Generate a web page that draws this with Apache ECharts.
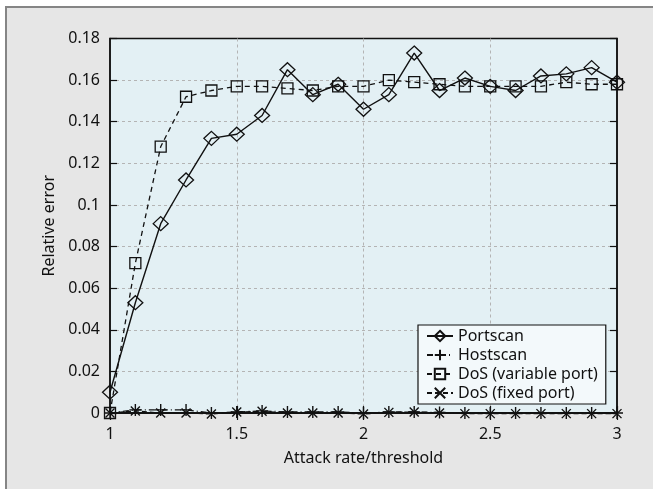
<!DOCTYPE html>
<html>
<head>
<meta charset="utf-8">
<script src="https://cdn.jsdelivr.net/npm/echarts@6/dist/echarts.min.js"></script>
<style>
html,body{margin:0;padding:0;background:#ffffff;}
#chart{width:653px;height:489px;}
</style>
</head>
<body>
<div id="chart"></div>
<script>
var xValues = [1.0,1.1,1.2,1.3,1.4,1.5,1.6,1.7,1.8,1.9,2.0,2.1,2.2,2.3,2.4,2.5,2.6,2.7,2.8,2.9,3.0];
var portscan = [0.010,0.053,0.091,0.112,0.132,0.134,0.143,0.165,0.153,0.158,0.146,0.153,0.173,0.155,0.161,0.157,0.155,0.162,0.163,0.166,0.159];
var hostscan = [0,0.0015,0.0015,0.0015,0,0.0005,0.001,0.0005,0.0005,0.0005,0,0.0005,0.0005,0.0003,0,0,0,0,0,0,0];
var dosVariable = [0,0.072,0.128,0.152,0.155,0.157,0.157,0.156,0.155,0.157,0.157,0.160,0.159,0.158,0.157,0.157,0.157,0.157,0.159,0.158,0.158];
var dosFixed = [0,0.001,0,0,-0.0005,0.0005,0.0008,0,0,0,-0.0005,0.0003,0.0005,0,-0.0003,-0.0003,-0.0003,-0.0003,-0.0003,-0.0003,-0.0003];
var seriesNames = ['Portscan','Hostscan','DoS (variable port)','DoS (fixed port)'];
var xTicks = [1,1.5,2,2.5,3];
var yTicks = [0,0.02,0.04,0.06,0.08,0.1,0.12,0.14,0.16,0.18];

function pairs(vals){ return xValues.map(function(x,i){ return [x, vals[i]]; }); }

var FONT = 'Noto Sans';
var chart = echarts.init(document.getElementById('chart'), null, {renderer:'canvas'});
var gridLine = {show:true, showMinLine:false, showMaxLine:false, lineStyle:{color:'#b4b4b4', type:[3,3], width:1}};
var plusPath = 'path://M0,5 L10,5 M5,0 L5,10';
var crossPath = 'path://M0,0 L10,10 M10,0 L0,10';

chart.setOption({
  animation:false,
  backgroundColor:'#ffffff',
  graphic:[{
    type:'rect', z:-10, silent:true,
    shape:{x:6, y:7, width:720, height:560},
    style:{fill:'#e6e6e6', stroke:'#858585', lineWidth:2}
  }],
  grid:{left:110, right:36, top:38.5, bottom:76, show:true, backgroundColor:'#e3f0f4', borderColor:'#111', borderWidth:1.5},
  legend:{
    orient:'vertical', left:418, top:325, width:190,
    padding:[3,8,3,8], itemGap:3, itemWidth:26, itemHeight:13,
    backgroundColor:'#f3f9fb', borderColor:'#111', borderWidth:1.2,
    textStyle:{fontFamily:FONT, fontSize:16, color:'#111'},
    data:seriesNames
  },
  xAxis:[{
    type:'value', min:1, max:3, interval:0.5,
    name:'Attack rate/threshold', nameLocation:'middle', nameGap:37,
    nameTextStyle:{fontFamily:FONT, fontSize:16, color:'#111'},
    axisLine:{show:true, onZero:false, lineStyle:{color:'#111', width:1.5}},
    axisTick:{show:true, inside:true, length:7, lineStyle:{color:'#111', width:1.2}},
    axisLabel:{fontFamily:FONT, fontSize:16, color:'#111', margin:13, formatter:function(v){ return xTicks.indexOf(v)>=0 ? String(v) : ''; }},
    splitLine:gridLine
  },{
    type:'value', position:'top', min:1, max:3, interval:0.5,
    axisLine:{show:true, lineStyle:{color:'#111', width:1.5}},
    axisTick:{show:true, inside:true, length:7, lineStyle:{color:'#111', width:1.2}},
    axisLabel:{show:false}, splitLine:{show:false}
  }],
  yAxis:[{
    type:'value', min:0, max:0.18, interval:0.02,
    name:'Relative error', nameLocation:'middle', nameGap:52,
    nameTextStyle:{fontFamily:FONT, fontSize:16, color:'#111'},
    axisLine:{show:true, onZero:false, lineStyle:{color:'#111', width:1.5}},
    axisTick:{show:true, inside:true, length:7, lineStyle:{color:'#111', width:1.2}},
    axisLabel:{fontFamily:FONT, fontSize:16, color:'#111', margin:10, formatter:function(v){ var r=Math.round(v*100)/100; return yTicks.indexOf(r)>=0 ? String(r) : ''; }},
    splitLine:gridLine
  },{
    type:'value', position:'right', min:0, max:0.18, interval:0.02,
    axisLine:{show:true, lineStyle:{color:'#111', width:1.5}},
    axisTick:{show:true, inside:true, length:7, lineStyle:{color:'#111', width:1.2}},
    axisLabel:{show:false}, splitLine:{show:false}
  }],
  series:[
    {name:seriesNames[3], type:'line', data:pairs(dosFixed), clip:false, z:3,
     symbol:crossPath, symbolSize:9, showAllSymbol:true,
     lineStyle:{color:'#111', width:1.2, type:[5,3]},
     itemStyle:{color:'rgba(0,0,0,0)', borderColor:'#111', borderWidth:1.4}},
    {name:seriesNames[1], type:'line', data:pairs(hostscan), clip:false, z:3,
     symbol:plusPath, symbolSize:12, showAllSymbol:true,
     lineStyle:{color:'#111', width:1.2, type:[6,3,1,3]},
     itemStyle:{color:'rgba(0,0,0,0)', borderColor:'#111', borderWidth:1.4}},
    {name:seriesNames[2], type:'line', data:pairs(dosVariable), clip:false, z:4,
     symbol:'rect', symbolSize:11, showAllSymbol:true,
     lineStyle:{color:'#111', width:1.3, type:[5,4]},
     itemStyle:{color:'rgba(0,0,0,0)', borderColor:'#111', borderWidth:1.3}},
    {name:seriesNames[0], type:'line', data:pairs(portscan), clip:false, z:5,
     symbol:'diamond', symbolSize:[15,14], showAllSymbol:true,
     lineStyle:{color:'#111', width:1.4, type:'solid'},
     itemStyle:{color:'rgba(0,0,0,0)', borderColor:'#111', borderWidth:1.3}}
  ]
});
</script>
</body>
</html>
